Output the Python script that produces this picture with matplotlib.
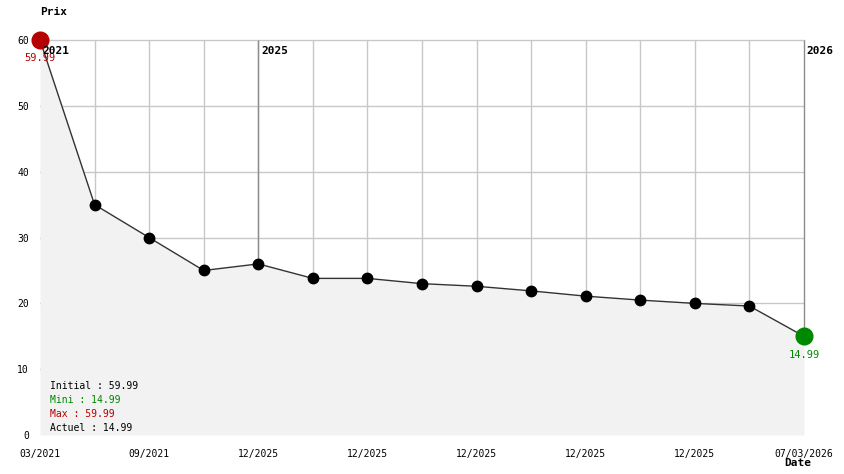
import matplotlib
matplotlib.use("Agg")
import matplotlib.pyplot as plt

# price history (one point per grid column)
prices = [59.99, 34.99, 29.99, 24.99, 25.99, 23.79, 23.79, 22.99, 22.59,
          21.89, 21.09, 20.49, 19.99, 19.59, 14.99]
tick_labels = ["03/2021", "09/2021", "12/2025", "12/2025", "12/2025",
               "12/2025", "12/2025", "07/03/2026"]
tick_pos = [0, 2, 4, 6, 8, 10, 12, 14]
years = ["2021", "2025", "2026"]
year_pos = [0, 4, 14]
y_ticks = [0, 10, 20, 30, 40, 50, 60]

red = "#b40000"
green = "#008800"
plt.rcParams['font.family'] = ['DejaVu Sans Mono']

fig = plt.figure(figsize=(8.44, 4.74), dpi=100)
ax = fig.add_axes([40 / 844, 1 - 435 / 474, 764 / 844, 395 / 474])

x = list(range(len(prices)))
n = len(prices) - 1

# grid (inner columns only, the edges carry the year lines)
for xi in x[1:-1]:
    ax.axvline(xi, color="#c8c8c8", lw=1, zorder=1)
for yv in y_ticks[1:]:
    ax.axhline(yv, color="#c8c8c8", lw=1, zorder=1, clip_on=(yv != 60))
# year separators, only visible above the area
ax.vlines(year_pos, [prices[p] for p in year_pos], 60, color="#8c8c8c",
          lw=1, zorder=1.5, clip_on=False)

# area + line
ax.fill_between(x, prices, 0, color="#f2f2f2", lw=0, zorder=2)
ax.plot(x, prices, color="#333333", lw=1, zorder=3)
ax.plot(x[1:-1], prices[1:-1], "o", color="black", ms=7.5, zorder=4)

i_max = prices.index(max(prices))
i_min = prices.index(min(prices))
ax.plot(i_max, prices[i_max], "o", color=red, ms=12, zorder=5, clip_on=False)
ax.plot(i_min, prices[i_min], "o", color=green, ms=12, zorder=5, clip_on=False)
ax.annotate(f"{prices[i_max]:.2f}", (i_max, prices[i_max]), xytext=(0, -9.5),
            textcoords="offset points", ha="center", va="top", color=red,
            fontsize=7.5, zorder=6, annotation_clip=False)
ax.annotate(f"{prices[i_min]:.2f}", (i_min, prices[i_min]), xytext=(0, -9.5),
            textcoords="offset points", ha="center", va="top", color=green,
            fontsize=7.5, zorder=6, annotation_clip=False)

# year labels
for yr, xp in zip(years, year_pos):
    ax.text(xp + 0.05, 58.4, yr, ha="left", va="center", fontsize=8,
            fontweight="bold", zorder=6, clip_on=False)

ax.set_xlim(0, n)
ax.set_ylim(0, 60)
ax.set_xticks(tick_pos)
ax.set_xticklabels(tick_labels, fontsize=7)
ax.set_yticks(y_ticks)
ax.set_yticklabels([str(v) for v in y_ticks], fontsize=7)
ax.tick_params(length=0, pad=8)
ax.tick_params(axis="x", pad=10)
for s in ax.spines.values():
    s.set_visible(False)

# summary box
info = [("Initial : %.2f" % prices[0], "black"),
        ("Mini : %.2f" % min(prices), green),
        ("Max : %.2f" % max(prices), red),
        ("Actuel : %.2f" % prices[-1], "black")]
for k, (txt, col) in enumerate(info):
    fig.text(50 / 844, 1 - (386 + k * 14) / 474, txt, color=col, fontsize=7,
             va="center", ha="left")

fig.text(40 / 844, 1 - 12 / 474, "Prix", fontsize=8, fontweight="bold",
         va="center", ha="left")
fig.text(811 / 844, 1 - 463 / 474, "Date", fontsize=8, fontweight="bold",
         va="center", ha="right")

fig.savefig("out.png", dpi=100, facecolor="white")
